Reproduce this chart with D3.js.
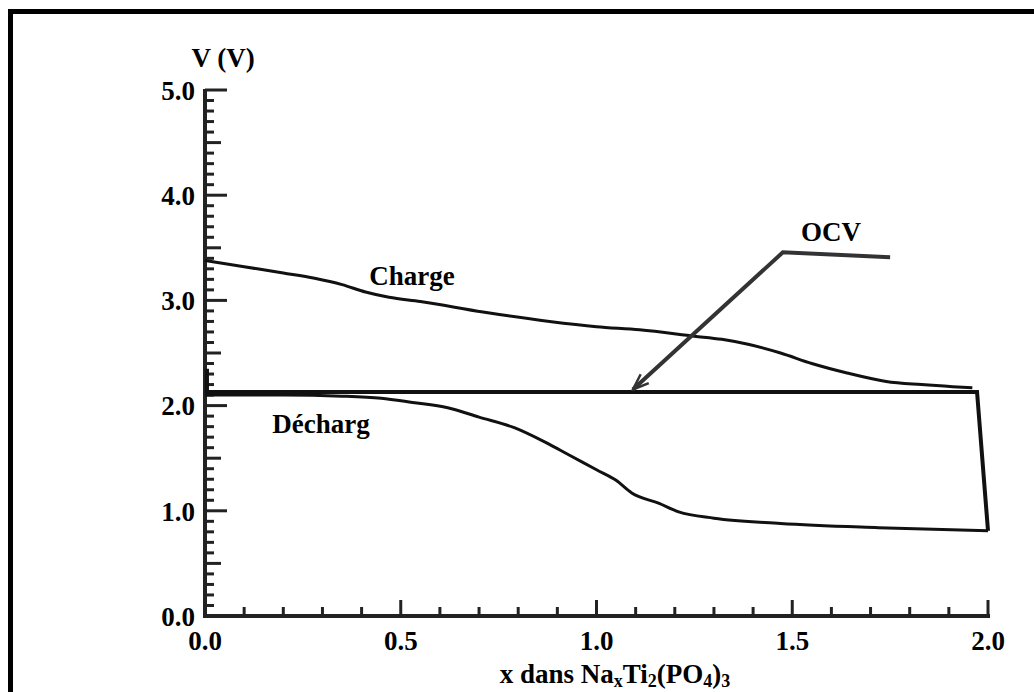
<!DOCTYPE html>
<html>
<head>
<meta charset="utf-8">
<script src="https://cdn.jsdelivr.net/npm/d3@7"></script>
<style>
  html, body { margin: 0; padding: 0; background: #fff; }
  svg { display: block; }
  text { font-family: "Liberation Serif", "Times New Roman", serif; font-weight: bold; fill: #000; }
</style>
</head>
<body>
<svg id="chart" width="1034" height="692"></svg>
<script>
// Galvanostatic cycle of NaxTi2(PO4)3: composition x vs cell voltage (V)
const xTickValues = [0.0, 0.5, 1.0, 1.5, 2.0];
const yTickValues = [0.0, 1.0, 2.0, 3.0, 4.0, 5.0];

const chargeX = [0.00, 0.10, 0.20, 0.28, 0.35, 0.41, 0.47, 0.55, 0.71, 0.88, 1.00, 1.11, 1.25, 1.32, 1.39, 1.47, 1.55, 1.64, 1.74, 1.83, 1.91, 1.96];
const chargeV = [3.38, 3.32, 3.26, 3.21, 3.15, 3.08, 3.03, 2.99, 2.89, 2.80, 2.75, 2.72, 2.66, 2.63, 2.58, 2.50, 2.40, 2.31, 2.23, 2.20, 2.18, 2.17];

const dischargeX = [0.00, 0.20, 0.35, 0.45, 0.53, 0.62, 0.70, 0.79, 0.87, 0.93, 1.00, 1.05, 1.09, 1.16, 1.21, 1.30, 1.47, 1.72, 2.00];
const dischargeV = [2.10, 2.10, 2.09, 2.07, 2.03, 1.98, 1.89, 1.79, 1.65, 1.53, 1.39, 1.29, 1.17, 1.07, 0.99, 0.93, 0.88, 0.84, 0.81];

// open-circuit voltage plateau, then the relaxation drop at the end of the cycle
const ocvX = [0.005, 0.005, 1.972, 2.00];
const ocvV = [2.35, 2.13, 2.13, 0.81];

// OCV annotation leader (label leg, elbow, arrow tip)
const leaderX = [1.75, 1.476, 1.093];
const leaderV = [3.41, 3.457, 2.153];

const svg = d3.select("#chart");

// outer frame
svg.append("rect")
  .attr("x", 10.5).attr("y", 11.5)
  .attr("width", 1100).attr("height", 800)
  .attr("fill", "none").attr("stroke", "#000").attr("stroke-width", 5);

const x = d3.scaleLinear().domain([0, 2]).range([205, 988]);
const y = d3.scaleLinear().domain([0, 5]).range([616, 90]);

const axisColor = "#222";

// y axis: line and ticks pointing into the plot
const yMinor = d3.range(0, 50).map(i => i / 10);
const yg = svg.append("g");
yg.selectAll("line.tk").data(yMinor).enter().append("line")
  .attr("x1", x(0)).attr("x2", d => {
    const r = Math.round(d * 10) % 10;
    return x(0) + (r === 0 ? 22 : (r === 5 ? 16 : 9));
  })
  .attr("y1", d => y(d)).attr("y2", d => y(d))
  .attr("stroke", axisColor).attr("stroke-width", 3);
yg.append("line")
  .attr("x1", x(0)).attr("x2", x(0)).attr("y1", y(5) - 1).attr("y2", y(0) + 2)
  .attr("stroke", axisColor).attr("stroke-width", 4);
yg.append("line")
  .attr("x1", x(0)).attr("x2", x(0) + 22).attr("y1", y(5)).attr("y2", y(5))
  .attr("stroke", axisColor).attr("stroke-width", 3);
yg.selectAll("text").data(yTickValues).enter().append("text")
  .attr("x", 195).attr("y", d => y(d)).attr("dy", "0.36em")
  .attr("text-anchor", "end").attr("font-size", 27)
  .text(d => d.toFixed(1));

// x axis: line and ticks pointing upward
const xMinor = d3.range(0, 21).map(i => i / 10);
const xg = svg.append("g");
xg.selectAll("line.tk").data(xMinor).enter().append("line")
  .attr("x1", d => x(d)).attr("x2", d => x(d))
  .attr("y1", y(0)).attr("y2", d => {
    const r = Math.round(d * 10) % 5;
    return y(0) - (r === 0 ? 16 : 9);
  })
  .attr("stroke", axisColor).attr("stroke-width", 3);
xg.append("line")
  .attr("x1", x(0) - 2).attr("x2", x(2) + 2).attr("y1", y(0)).attr("y2", y(0))
  .attr("stroke", axisColor).attr("stroke-width", 4);
xg.selectAll("text").data(xTickValues).enter().append("text")
  .attr("x", d => x(d)).attr("y", 650)
  .attr("text-anchor", "middle").attr("font-size", 27)
  .text(d => d.toFixed(1));

// axis titles
svg.append("text").attr("x", 223).attr("y", 67)
  .attr("text-anchor", "middle").attr("font-size", 27).text("V (V)");

const xt = svg.append("text").attr("x", 615).attr("y", 683)
  .attr("text-anchor", "middle").attr("font-size", 27);
xt.append("tspan").text("x dans Na");
xt.append("tspan").attr("font-size", 18).attr("dy", 4).text("x");
xt.append("tspan").attr("dy", -4).text("Ti");
xt.append("tspan").attr("font-size", 18).attr("dy", 4).text("2");
xt.append("tspan").attr("dy", -4).text("(PO");
xt.append("tspan").attr("font-size", 18).attr("dy", 4).text("4");
xt.append("tspan").attr("dy", -4).text(")");
xt.append("tspan").attr("font-size", 18).attr("dy", 4).text("3");

// curves
const line = d3.line().x(d => x(d[0])).y(d => y(d[1]));
const smooth = d3.line().x(d => x(d[0])).y(d => y(d[1])).curve(d3.curveMonotoneX);

svg.append("path")
  .datum(ocvX.map((v, i) => [v, ocvV[i]]))
  .attr("d", line)
  .attr("fill", "none").attr("stroke", "#111").attr("stroke-width", 4)
  .attr("stroke-linejoin", "miter");

svg.append("path")
  .datum(chargeX.map((v, i) => [v, chargeV[i]]))
  .attr("d", smooth)
  .attr("fill", "none").attr("stroke", "#111").attr("stroke-width", 3);

svg.append("path")
  .datum(dischargeX.map((v, i) => [v, dischargeV[i]]))
  .attr("d", smooth)
  .attr("fill", "none").attr("stroke", "#111").attr("stroke-width", 3);

// OCV annotation arrow
svg.append("defs").append("marker")
  .attr("id", "head").attr("viewBox", "0 0 20 20")
  .attr("refX", 18).attr("refY", 10)
  .attr("markerWidth", 20).attr("markerHeight", 20)
  .attr("markerUnits", "userSpaceOnUse").attr("orient", "auto")
  .append("path").attr("d", "M2,4 L18,10 L2,16")
  .attr("fill", "none").attr("stroke", "#333").attr("stroke-width", 2.5);

svg.append("path")
  .datum(leaderX.map((v, i) => [v, leaderV[i]]))
  .attr("d", line)
  .attr("fill", "none").attr("stroke", "#333").attr("stroke-width", 4)
  .attr("marker-end", "url(#head)");

// curve labels
svg.append("text").attr("x", 412).attr("y", 285).attr("text-anchor", "middle")
  .attr("font-size", 27).text("Charge");
svg.append("text").attr("x", 321).attr("y", 433).attr("text-anchor", "middle")
  .attr("font-size", 27).text("Décharg");
svg.append("text").attr("x", 831).attr("y", 241).attr("text-anchor", "middle")
  .attr("font-size", 27).text("OCV");
</script>
</body>
</html>
